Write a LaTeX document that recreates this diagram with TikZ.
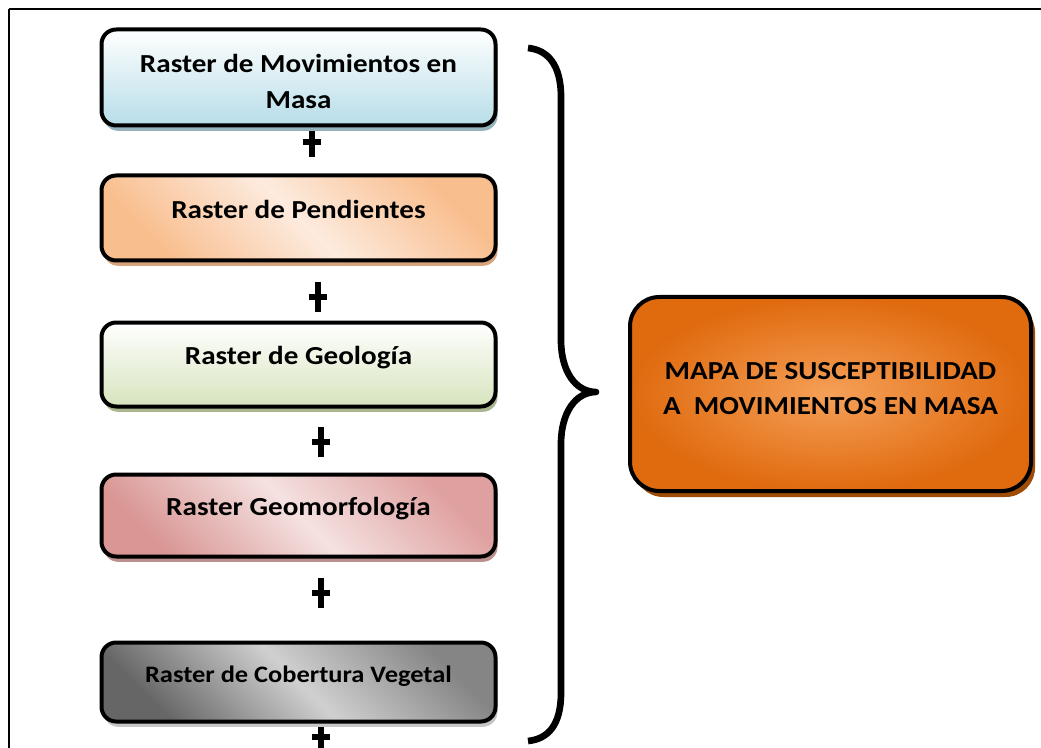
\documentclass[tikz,border=0pt]{standalone}
\usepackage{fontspec}
\setmainfont{Carlito}[FakeStretch=1.12]
\usepackage{tikz}
\usetikzlibrary{positioning, shadows, calc}
\definecolor{celeste}{HTML}{B7DDE8}
\definecolor{sombraAzul}{HTML}{96B3BD}
\definecolor{durazno}{HTML}{F9BE8E}
\definecolor{duraznoClaro}{HTML}{FDEBDF}
\definecolor{sombraDurazno}{HTML}{D6A47C}
\definecolor{verdeClaro}{HTML}{D7E4BD}
\definecolor{sombraVerde}{HTML}{AAB78E}
\definecolor{rosa}{HTML}{D99694}
\definecolor{rosaClaro}{HTML}{F4E2E1}
\definecolor{rosaMedio}{HTML}{DFA1A0}
\definecolor{sombraRosa}{HTML}{BC8F8F}
\definecolor{grisOscuro}{HTML}{666666}
\definecolor{grisClaro}{HTML}{D0D0D0}
\definecolor{grisMedio}{HTML}{858585}
\definecolor{sombraGris}{HTML}{C6C6C6}
\definecolor{naranjaFuerte}{HTML}{E06A0E}
\definecolor{naranjaLuz}{HTML}{F5A058}
\definecolor{sombraNaranja}{HTML}{9E4C08}
\tikzset{
  capa/.style={
    draw=black, line width=3pt, rounded corners=11pt,
    minimum width=295.5pt, align=center,
    font=\fontsize{19.5}{27}\selectfont\bfseries,
    text height=13.5pt, text depth=12.9pt,
  },
  sombra/.style={drop shadow={shadow xshift=1.5pt, shadow yshift=-4pt,
    fill=#1, opacity=1}},
  resultado/.style={
    draw=black, line width=3pt, rounded corners=22pt,
    minimum width=300.75pt, minimum height=145.5pt, align=center,
    inner color=naranjaLuz, outer color=naranjaFuerte,
    font=\fontsize{19.5}{26.25}\selectfont\bfseries,
    text height=30.6pt, text depth=0pt,
    drop shadow={shadow xshift=3pt, shadow yshift=-4.5pt,
      fill=sombraNaranja, opacity=1},
  },
  marco/.style={draw=black, line width=1.5pt},
  llave/.style={draw=black, line width=5pt, line cap=butt, line join=round},
  cruz/.pic={
    \fill[black] (-2.6pt,-10.9pt) rectangle (2.6pt,10.9pt);
    \fill[black] (-6.4pt,-2.6pt) rectangle (6.4pt,2.6pt);
  },
}

\begin{document}
\begin{tikzpicture}[x=0.75pt, y=-0.75pt]
\useasboundingbox (0,0) rectangle (1041,748);

% marco de la figura
\draw[marco] (9,9) -- (1050,9);
\draw[marco] (9,9) -- (9,760);

% signos de suma entre capas
\pic at (312,142) {cruz};
\pic at (318,297) {cruz};
\pic at (321,442) {cruz};
\pic at (321,593) {cruz};
\pic at (321,737) {cruz};

% capas raster
\node[capa, sombra=sombraAzul, minimum height=72pt,
      top color=white, bottom color=celeste,
      text height=47.1pt, text depth=0pt] (movim) at (298.5,77.5)
      {Raster de Movimientos en\\Masa};
\node[capa, sombra=sombraDurazno, minimum height=63.75pt, below=34.5pt of movim,
      left color=durazno, right color=durazno, middle color=duraznoClaro,
      shading angle=135] (pend) {Raster de Pendientes};
\node[capa, sombra=sombraVerde, minimum height=63pt, below=43.5pt of pend,
      top color=white, bottom color=verdeClaro] (geol) {Raster de Geología};
\node[capa, sombra=sombraRosa, minimum height=61.5pt, below=48pt of geol,
      left color=rosa, right color=rosaMedio, middle color=rosaClaro,
      shading angle=135] (geom) {Raster Geomorfología};
\node[capa, sombra=sombraGris, minimum height=59.25pt, below=61.5pt of geom,
      left color=grisOscuro, right color=grisMedio, middle color=grisClaro,
      shading angle=135, font=\fontsize{17.7}{24}\selectfont\bfseries]
      (cober) {Raster de Cobertura Vegetal};

% mapa final
\node[resultado] (mapa) at (830.5,394)
      {MAPA DE SUSCEPTIBILIDAD\\A\ \ MOVIMIENTOS EN MASA};

% llave que agrupa las capas
\coordinate (punta) at (596,392);
\draw[llave] (528,48) .. controls (548,50) and (561,65) .. (561,97)
  -- (561,340) .. controls (561,372) and (576,392) .. (punta)
  .. controls (576,392) and (561,412) .. (561,444)
  -- (561,693) .. controls (561,725) and (548,739) .. (528,741);

\end{tikzpicture}
\end{document}
